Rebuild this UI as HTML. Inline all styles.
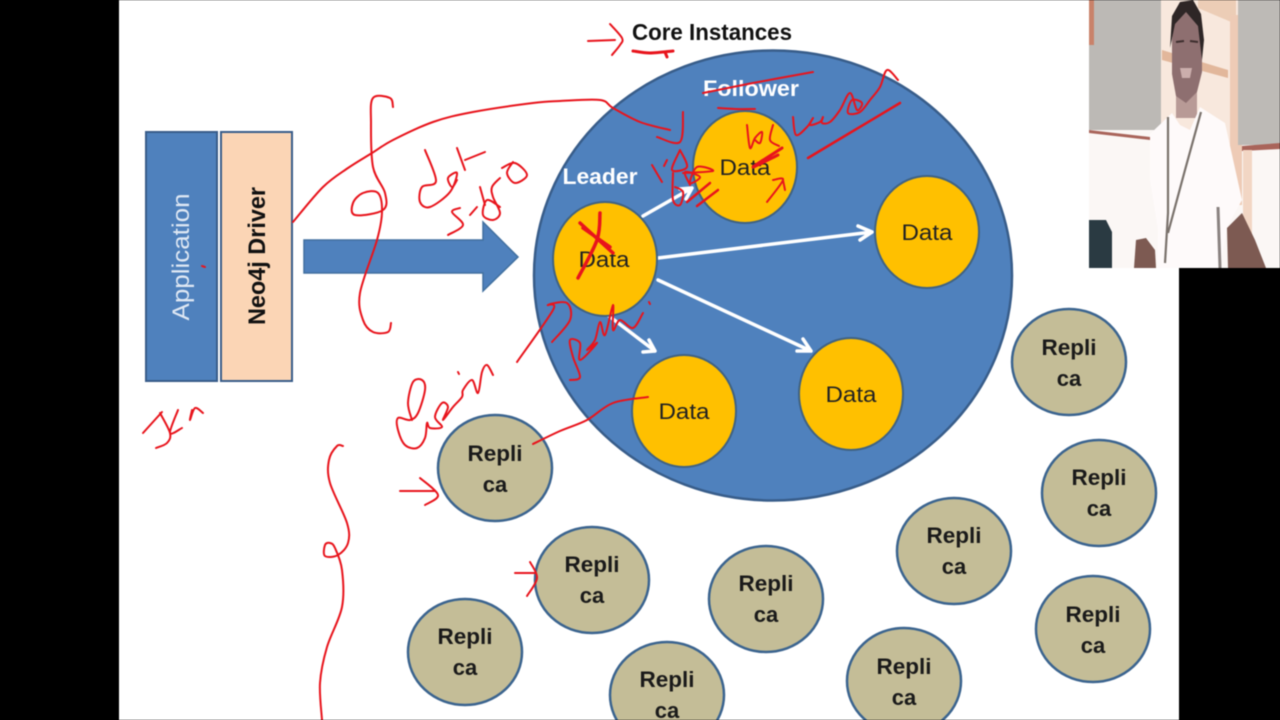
<!DOCTYPE html>
<html lang="en"><head><meta charset="utf-8"><title>Neo4j Core Instances diagram</title>
<style>
html,body{margin:0;padding:0;background:#000;width:1280px;height:720px;overflow:hidden}
svg{display:block;filter:blur(.45px)}
text{font-family:"Liberation Sans",sans-serif}
.rep{font-weight:bold;font-size:22px;fill:#1a1a1a;text-anchor:middle}
.dat{font-size:22px;fill:#222;text-anchor:middle}
.wh{fill:none;stroke:#fff;stroke-width:3.5;stroke-linecap:round;stroke-linejoin:round}
.r path{fill:none;stroke:#e8141c;stroke-width:2;stroke-linecap:round;stroke-linejoin:round}
.dc{fill:#ffc000;stroke:#3f6283;stroke-width:2}
.rc{fill:#c4bd97;stroke:#3b648f;stroke-width:2.5}
</style></head><body>
<svg width="1280" height="720" viewBox="0 0 1280 720" xmlns="http://www.w3.org/2000/svg">
<rect width="1280" height="720" fill="#fff"/>
<rect x="0" y="0" width="119" height="720" fill="#000"/>
<rect x="1179" y="268" width="101" height="452" fill="#000"/>

<!-- Left boxes -->
<rect x="146" y="132" width="71" height="249" fill="#4f81bd" stroke="#385d8a" stroke-width="2"/>
<rect x="221" y="132" width="71" height="249" fill="#fbd5b5" stroke="#385d8a" stroke-width="2"/>
<text transform="translate(189,257) rotate(-90)" text-anchor="middle" font-size="24" fill="#dfe8f4" textLength="127" lengthAdjust="spacingAndGlyphs">Application</text>
<text transform="translate(265,256) rotate(-90)" text-anchor="middle" font-size="24" font-weight="bold" fill="#111" textLength="138" lengthAdjust="spacingAndGlyphs">Neo4j Driver</text>

<!-- Block arrow -->
<polygon points="304,240 483,240 483,222 518,257 483,291 483,273 304,273" fill="#4f81bd" stroke="#41709f" stroke-width="1.5"/>

<!-- Big ellipse -->
<ellipse cx="773" cy="275.5" rx="239" ry="225" fill="#4f81bd" stroke="#385d8a" stroke-width="2.5"/>

<text x="712" y="40" text-anchor="middle" font-size="23" font-weight="bold" fill="#111" textLength="160" lengthAdjust="spacingAndGlyphs">Core Instances</text>
<text x="751" y="96" text-anchor="middle" font-size="22" font-weight="bold" fill="#fff" textLength="96" lengthAdjust="spacingAndGlyphs">Follower</text>
<text x="600" y="184" text-anchor="middle" font-size="22" font-weight="bold" fill="#fff" textLength="75" lengthAdjust="spacingAndGlyphs">Leader</text>

<!-- White arrows -->
<path class="wh" d="M643,216 L692,188 M680,189 L692,188 L686,199"/>
<path class="wh" d="M658,258 L872,232 M858,226 L872,232 L860,240"/>
<path class="wh" d="M658,280 L811,351 M797,351 L811,351 L803,339"/>
<path class="wh" d="M605,313 L655,351 M643,352 L655,351 L649,340"/>

<!-- Data circles -->
<ellipse class="dc" cx="605" cy="259" rx="52" ry="57"/>
<ellipse class="dc" cx="745" cy="167" rx="52" ry="56"/>
<ellipse class="dc" cx="927" cy="232" rx="52" ry="56"/>
<ellipse class="dc" cx="851" cy="394" rx="52" ry="56"/>
<ellipse class="dc" cx="684" cy="411" rx="52" ry="56"/>
<text class="dat" x="604" y="267" textLength="51" lengthAdjust="spacingAndGlyphs">Data</text>
<text class="dat" x="745" y="175" textLength="51" lengthAdjust="spacingAndGlyphs">Data</text>
<text class="dat" x="927" y="240" textLength="51" lengthAdjust="spacingAndGlyphs">Data</text>
<text class="dat" x="851" y="402" textLength="51" lengthAdjust="spacingAndGlyphs">Data</text>
<text class="dat" x="684" y="419" textLength="51" lengthAdjust="spacingAndGlyphs">Data</text>

<!-- Replicas -->
<ellipse class="rc" cx="495" cy="468" rx="57" ry="53"/>
<ellipse class="rc" cx="592" cy="580" rx="57" ry="53"/>
<ellipse class="rc" cx="465" cy="652" rx="57" ry="53"/>
<ellipse class="rc" cx="667" cy="695" rx="57" ry="53"/>
<ellipse class="rc" cx="766" cy="599" rx="57" ry="53"/>
<ellipse class="rc" cx="904" cy="681" rx="57" ry="53"/>
<ellipse class="rc" cx="954" cy="551" rx="57" ry="53"/>
<ellipse class="rc" cx="1069" cy="362" rx="57" ry="53"/>
<ellipse class="rc" cx="1099" cy="493" rx="57" ry="53"/>
<ellipse class="rc" cx="1093" cy="629" rx="57" ry="53"/>
<g>
<text class="rep" x="495" y="461" textLength="55" lengthAdjust="spacingAndGlyphs">Repli</text><text class="rep" x="495" y="492">ca</text>
<text class="rep" x="592" y="572" textLength="55" lengthAdjust="spacingAndGlyphs">Repli</text><text class="rep" x="592" y="603">ca</text>
<text class="rep" x="465" y="644" textLength="55" lengthAdjust="spacingAndGlyphs">Repli</text><text class="rep" x="465" y="675">ca</text>
<text class="rep" x="667" y="687" textLength="55" lengthAdjust="spacingAndGlyphs">Repli</text><text class="rep" x="667" y="718">ca</text>
<text class="rep" x="766" y="591" textLength="55" lengthAdjust="spacingAndGlyphs">Repli</text><text class="rep" x="766" y="622">ca</text>
<text class="rep" x="904" y="674" textLength="55" lengthAdjust="spacingAndGlyphs">Repli</text><text class="rep" x="904" y="705">ca</text>
<text class="rep" x="954" y="543" textLength="55" lengthAdjust="spacingAndGlyphs">Repli</text><text class="rep" x="954" y="574">ca</text>
<text class="rep" x="1069" y="355" textLength="55" lengthAdjust="spacingAndGlyphs">Repli</text><text class="rep" x="1069" y="386">ca</text>
<text class="rep" x="1099" y="485" textLength="55" lengthAdjust="spacingAndGlyphs">Repli</text><text class="rep" x="1099" y="516">ca</text>
<text class="rep" x="1093" y="622" textLength="55" lengthAdjust="spacingAndGlyphs">Repli</text><text class="rep" x="1093" y="653">ca</text>
</g>

<!-- Red pen annotations -->
<g class="r" id="pen">
<path d="M588,41 L615,40 M610,24 L622,38 L620,45 L612,55"/>
<path style="stroke-width:3" d="M633,51 L650,53 L673,51 M665,52 L667,57"/>
<path d="M703,93 L753,83 L813,72"/>
<path d="M718,108 L735,109 L755,109"/>
<path d="M293,222 L323,187 L348,168 L372,153 L393,140 L433,122 L473,112 L533,103 L560,101 L600,100 L613,108 L640,122 L670,130"/>
<path d="M683,112 L680,142 L657,137"/>
<path d="M393,107 L390,98 L373,98 L371,123 L373,167 L385,193 L383,210 L355,215 L353,203 L363,193 L378,193 L382,212 L377,240 L360,293 L363,320 L373,332 L388,332 L391,323"/>
<g><title>data sets</title>
<path d="M425,150 L436,181 L422,187 L420,202 L430,207 L450,192 L457,173 L448,178 L452,187 L457,180"/>
<path d="M457,148 L465,170 M465,160 L485,152"/>
<path d="M448,235 L463,225 L452,212 L460,208 M470,215 L477,207 M480,187 L485,205"/>
<path d="M500,207 L487,200 L483,215 L493,220 L500,213 L493,197 L492,187 L500,178"/>
<path d="M502,168 L515,163 L527,175 L515,183 L507,173 L513,162"/>
</g>
<g><title>Leader</title>
<path d="M793,117 L796,135 L807,127 L813,118 L810,125 L820,122 L823,117 L822,123 L830,122 L840,110 L850,93 L857,110 L862,103 L852,100 L848,113 L860,112 L870,100 L880,87 L887,70 L898,80"/>
</g>
<path style="stroke-width:2.5" d="M900,103 L833,143 L808,158"/>
<g><title>log</title>
<path d="M747,125 L750,148 L755,138 L762,132 L760,143 L755,140 M773,125 L770,140 L779,146"/>
<path style="stroke-width:3" d="M782,148 L753,167 L778,155"/>
<path d="M767,202 L783,180 L773,180 M783,180 L785,190"/>
<path d="M652,165 L662,182 M667,160 L664,166"/>
<path d="M680,150 L672,170 L687,167 L680,150 M673,173 L673,200 L680,205 L683,192 L675,187"/>
<path d="M683,173 L713,171 L697,167 L690,183 L700,177 L685,172 L690,185"/>
<path style="stroke-width:2.5" d="M687,202 L710,183 M697,206 L718,190"/>
</g>
<g><title>cross</title>
<path style="stroke-width:3.5" d="M600,213 L597,240 L578,278 M580,223 L613,253 M583,228 L610,247"/>
</g>
<g><title>Election</title>
<path d="M412,420 L408,403 L413,382 L422,380 L425,390 L418,413 L410,420 L398,418 L398,430 L405,445 L417,448 L425,438 L427,423 L430,428 L442,427 L435,417 L442,403 L448,407 L443,420 L453,407 L462,397 L463,390 L472,380 L478,393 L482,372 L487,365 L493,375 M458,372 L459,374"/>
</g>
<path d="M517,362 L553,310 L548,305 L567,303 L570,320 L552,342"/>
<g><title>follower</title>
<path d="M570,380 L580,377 L573,357 L570,340 L580,343 L580,360 L597,343 L587,350 L595,340 L600,322 L605,335 L613,305 L613,330 L620,320 L633,328 L643,313 M649,302 L650,304"/>
</g>
<path d="M533,444 L560,431 L587,420 L613,403 L648,397"/>
<path d="M400,491 L435,491 M420,478 L438,495 L425,505"/>
<path d="M515,573 L535,573 M530,562 L537,578 L527,596"/>
<g><title>Java</title>
<path d="M143,433 L162,412 M160,413 L170,433 L167,443 L156,448 M178,410 L170,433 L182,428 M192,410 L190,420 L195,408 L203,413"/>
</g>
<path d="M343,446 L337,446 L329,460 L330,483 L347,523 L348,543 L338,555 L325,556 L325,545 L330,543 L335,548 L342,570 L342,607 L327,647 L320,683 L322,720"/>
<path d="M202,266 L205,267"/>
</g>

<!-- Presenter video inset -->
<g>
<rect x="1089" y="0" width="191" height="268" fill="#fbf7f5"/>
<rect x="1089" y="0" width="72" height="130" fill="#bcb9b5"/>
<rect x="1089" y="0" width="5" height="45" fill="#c9826a"/>
<path d="M1089,130 L1150,137 L1150,140 L1089,133Z" fill="#a9645a"/>
<rect x="1161" y="0" width="77" height="150" fill="#f8e8dd"/>
<path d="M1198,0 L1236,0 L1236,24 L1198,8Z" fill="#eccdb6"/>
<path d="M1162,50 L1228,70 L1228,78 L1162,60Z" fill="#e2b79b"/>
<rect x="1230" y="15" width="12" height="190" fill="#eecbb6"/>
<rect x="1238" y="0" width="42" height="145" fill="#bdbab6"/>
<path d="M1242,146 L1280,143 L1280,149 L1242,151Z" fill="#a9645a"/>
<rect x="1243" y="150" width="9" height="118" fill="#f2d6c4"/>
<!-- neck and head -->
<rect x="1176" y="90" width="21" height="28" fill="#b89a96"/>
<path d="M1172,40 L1175,14 L1186,6 L1198,14 L1202,40 L1202,72 L1197,92 L1186,103 L1176,96 L1172,74Z" fill="#8e6f70"/>
<path d="M1170,48 L1172,16 L1180,2 L1193,0 L1201,14 L1204,40 L1202,60 L1198,26 L1186,12 L1175,24Z" fill="#2e2626"/>
<path d="M1176,42 L1184,41 M1190,41 L1198,42" stroke="#3d2e2e" stroke-width="2"/>
<path d="M1180,68 L1192,68 L1190,78 L1182,78Z" fill="#cbaeac"/>
<!-- shirt -->
<path d="M1150,134 L1172,113 L1180,125 L1190,130 L1200,107 L1225,123 L1242,200 L1227,227 L1220,268 L1157,268 L1158,230 L1150,180Z" fill="#fefafa"/>
<!-- lanyard -->
<path d="M1168,117 L1168,213 L1165,263 M1201,112 L1185,170 L1168,233" fill="none" stroke="#7a726c" stroke-width="2.2"/>
<!-- arms -->
<path d="M1134,268 L1136,240 L1146,238 L1155,250 L1156,268Z" fill="#7d5a52"/>
<path d="M1228,268 L1227,228 L1242,213 L1255,240 L1266,268Z" fill="#7d5a52"/>
<path d="M1218,207 L1220,268" stroke="#8a8280" stroke-width="3"/>
<!-- bag -->
<path d="M1089,220 L1106,220 L1112,232 L1112,268 L1089,268Z" fill="#2a3a42"/>
</g>
</svg>
<script>
document.querySelectorAll('#pen path').forEach(function(el){
  var out='';
  el.getAttribute('d').split('M').forEach(function(s){
    s=s.trim(); if(!s) return;
    var p=s.split('L').map(function(t){return t.trim().split(',').map(Number)});
    out+='M'+p[0][0]+','+p[0][1];
    for(var i=0;i<p.length-1;i++){
      var a=p[Math.max(i-1,0)],b=p[i],c=p[i+1],d=p[Math.min(i+2,p.length-1)];
      out+='C'+(b[0]+(c[0]-a[0])/6).toFixed(1)+','+(b[1]+(c[1]-a[1])/6).toFixed(1)+' '+
               (c[0]-(d[0]-b[0])/6).toFixed(1)+','+(c[1]-(d[1]-b[1])/6).toFixed(1)+' '+c[0]+','+c[1];
    }
  });
  el.setAttribute('d',out);
});
</script>
</body></html>
